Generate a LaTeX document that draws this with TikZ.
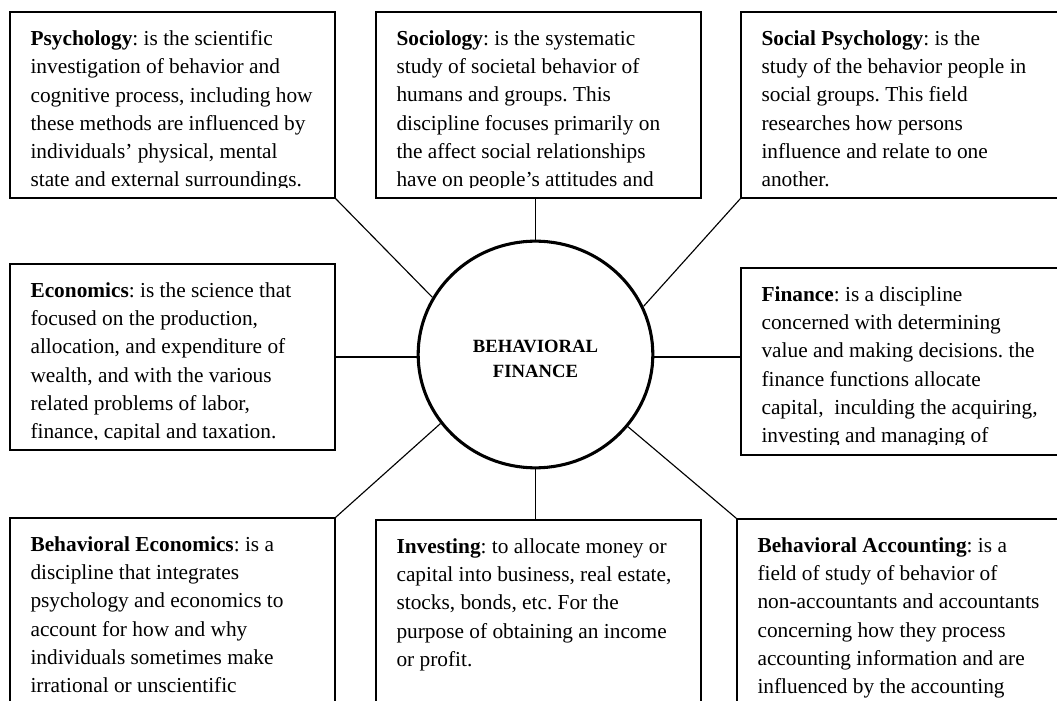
\documentclass[tikz,border=0pt]{standalone}
\usepackage{fontspec}
\setmainfont{Liberation Serif}
\usetikzlibrary{calc, fit, shapes.geometric}

\begin{document}
\frenchspacing
\begin{tikzpicture}[x=0.75pt, y=0.75pt,
  box/.style={draw, line width=1.1pt, inner sep=0pt},
  txt/.style={anchor=north west, inner sep=0pt, align=left, font=\fontsize{16}{21.2}\selectfont},
  hub/.style={draw, ellipse, line width=2.3pt, minimum width=176pt, minimum height=170pt},
  hubtxt/.style={inner sep=0pt, align=center, font=\fontsize{14}{18.8}\selectfont\bfseries},
  link/.style={line width=0.85pt}]
\useasboundingbox (0,0) rectangle (1057,700);
\clip (0,0) rectangle (1057,700);
% boxes, the right and bottom ones run off the page
\node[box, fit={(10,502) (335,688)}] (psy) {};
\node[box, fit={(376,502) (701,688)}] (soc) {};
\node[box, fit={(741,502) (1080,688)}] (spsy) {};
\node[box, fit={(10,250) (335,436)}] (eco) {};
\node[box, fit={(741,245) (1080,432)}] (fin) {};
\node[box, fit={(10,-20) (335,182)}] (beco) {};
\node[box, fit={(376,-20) (701,180)}] (inv) {};
\node[box, fit={(737,-20) (1080,181)}] (bacc) {};
\node[hub] (bf) at (535.5,345.5) {};
\node[hubtxt] (bf-txt) at ($(bf.center)+(0,-4)$) {BEHAVIORAL\\FINANCE};
% texts, cut off at the inner margin of each box
\foreach \b/\t in {
  psy/{\textbf{Psychology}: is the scientific\\investigation of behavior and\\cognitive process, including how\\these methods are influenced by\\individuals’ physical, mental\\state and external surroundings.},
  soc/{\textbf{Sociology}: is the systematic\\study of societal behavior of\\humans and groups. This\\discipline focuses primarily on\\the affect social relationships\\have on people’s attitudes and},
  spsy/{\textbf{Social Psychology}: is the\\study of the behavior people in\\social groups. This field\\researches how persons\\influence and relate to one\\another.},
  eco/{\textbf{Economics}: is the science that\\focused on the production,\\allocation, and expenditure of\\wealth, and with the various\\related problems of labor,\\finance, capital and taxation.},
  fin/{\textbf{Finance}: is a discipline\\concerned with determining\\value and making decisions. the\\finance functions allocate\\capital,\ \ inculding the acquiring,\\investing and managing of},
  beco/{\textbf{Behavioral Economics}: is a\\discipline that integrates\\psychology and economics to\\account for how and why\\individuals sometimes make\\irrational or unscientific},
  inv/{\textbf{Investing}: to allocate money or\\capital into business, real estate,\\stocks, bonds, etc. For the\\purpose of obtaining an income\\or profit.},
  bacc/{\textbf{Behavioral Accounting}: is a\\field of study of behavior of\\non-accountants and accountants\\concerning how they process\\accounting information and are\\influenced by the accounting}} {
  \begin{scope}
    \clip ($(\b.south west)+(0,11)$) rectangle (\b.north east);
    \node[txt] (\b-txt) at ($(\b.north west)+(21,-19)$) {\t};
  \end{scope}
}
% connectors
\draw[link] (psy.south east) -- (bf.151);
\draw[link] (soc.south -| bf.north) -- (bf.north);
\draw[link] (spsy.south west) -- (bf.24);
\draw[link] (eco.east) -- (eco.east -| bf.west);
\draw[link] (eco.east -| bf.east) -- (eco.east -| fin.west);
\draw[link] (beco.north east) -- (bf.216);
\draw[link] (bf.south) -- (bf.south |- inv.north);
\draw[link] (bf.322) -- (bacc.north west);
\end{tikzpicture}
\end{document}
